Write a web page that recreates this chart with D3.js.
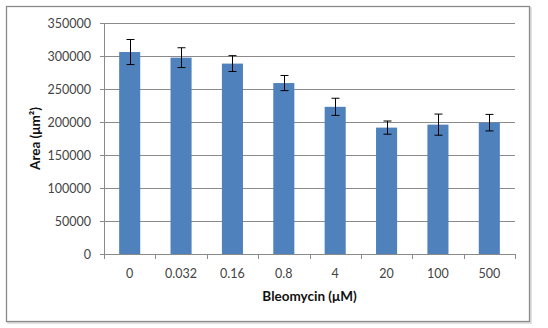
<!DOCTYPE html>
<html>
<head>
<meta charset="utf-8">
<script src="https://cdn.jsdelivr.net/npm/d3@7"></script>
<style>
  html, body { margin: 0; padding: 0; background: #fff; }
  svg { display: block; }
  text { font-family: Lato, "Open Sans", sans-serif; }
</style>
</head>
<body>
<svg id="chart" width="548" height="328"></svg>
<script>
const categories = ["0", "0.032", "0.16", "0.8", "4", "20", "100", "500"];
const areaValues = [306000, 297500, 288500, 259000, 223000, 191500, 196000, 199000];
const areaErrors = [19000, 15000, 12000, 11500, 13000, 10000, 16000, 12500];
const yTicks = [0, 50000, 100000, 150000, 200000, 250000, 300000, 350000];
const xTitle = "Bleomycin (μM)";
const yTitle = "Area (μm²)";

(function () {
const svg = d3.select("#chart");

svg.append("rect").attr("x", 8).attr("y", 8).attr("width", 523).attr("height", 315)
  .attr("fill", "none").attr("stroke", "#d6d6d6").attr("stroke-width", 1.5);
svg.append("rect").attr("x", 6.5).attr("y", 6.5).attr("width", 523).attr("height", 315)
  .attr("fill", "#fff").attr("stroke", "#8a8a8a").attr("stroke-width", 1.3);

const pLeft = 104, pRight = 515, pTop = 23, pBottom = 254;

const x = d3.scaleBand().domain(categories).range([pLeft, pRight])
  .paddingInner(0.59).paddingOuter(0.295);
const y = d3.scaleLinear().domain([0, 350000]).range([pBottom, pTop]);

const g = svg.append("g");
g.selectAll("line.grid").data(yTicks).join("line")
  .attr("x1", pLeft - 4).attr("x2", pRight)
  .attr("y1", d => Math.round(y(d)) + 0.5).attr("y2", d => Math.round(y(d)) + 0.5)
  .attr("stroke", "#8a8a8a").attr("stroke-width", 1);

g.append("line").attr("x1", pLeft + 0.5).attr("x2", pLeft + 0.5)
  .attr("y1", pTop).attr("y2", pBottom + 0.5)
  .attr("stroke", "#8a8a8a");

g.selectAll("text.ytick").data(yTicks).join("text")
  .attr("x", 91).attr("y", d => y(d))
  .attr("dy", "0.36em")
  .attr("text-anchor", "end")
  .attr("font-size", 12.5)
  .attr("fill", "#444")
  .text(d => d);

svg.append("g").selectAll("rect").data(categories).join("rect")
  .attr("x", d => x(d))
  .attr("width", x.bandwidth())
  .attr("y", (d, i) => y(areaValues[i]))
  .attr("height", (d, i) => y(0) - y(areaValues[i]))
  .attr("fill", "#4F81BD");

const step = x.step();
svg.append("line").attr("x1", pLeft).attr("x2", pRight)
  .attr("y1", pBottom + 0.5).attr("y2", pBottom + 0.5).attr("stroke", "#8a8a8a");
svg.append("g").selectAll("line").data(d3.range(categories.length + 1)).join("line")
  .attr("x1", i => Math.round(pLeft + i * step) + 0.5)
  .attr("x2", i => Math.round(pLeft + i * step) + 0.5)
  .attr("y1", pBottom).attr("y2", pBottom + 5)
  .attr("stroke", "#8a8a8a");

const eb = svg.append("g").attr("stroke", "#000").attr("stroke-width", 1);
categories.forEach((c, i) => {
  const cx = Math.round(x(c) + x.bandwidth() / 2) + 0.5;
  const hi = y(areaValues[i] + areaErrors[i]);
  const lo = y(areaValues[i] - areaErrors[i]);
  eb.append("line").attr("x1", cx).attr("x2", cx).attr("y1", hi).attr("y2", lo);
  eb.append("line").attr("x1", cx - 4).attr("x2", cx + 4).attr("y1", hi).attr("y2", hi);
  eb.append("line").attr("x1", cx - 4).attr("x2", cx + 4).attr("y1", lo).attr("y2", lo);
});

svg.append("g").selectAll("text").data(categories).join("text")
  .attr("x", d => x(d) + x.bandwidth() / 2)
  .attr("y", 278)
  .attr("text-anchor", "middle")
  .attr("font-size", 12.5)
  .attr("fill", "#444")
  .text(d => d);

svg.append("text")
  .attr("x", (pLeft + pRight) / 2).attr("y", 301)
  .attr("text-anchor", "middle")
  .attr("font-size", 13.5).attr("font-weight", "bold").attr("fill", "#111")
  .text(xTitle);

svg.append("text")
  .attr("transform", `translate(40,${(pTop + pBottom) / 2}) rotate(-90)`)
  .attr("text-anchor", "middle")
  .attr("font-size", 13.5).attr("font-weight", "bold").attr("fill", "#111")
  .text(yTitle);
})();
</script>
</body>
</html>
